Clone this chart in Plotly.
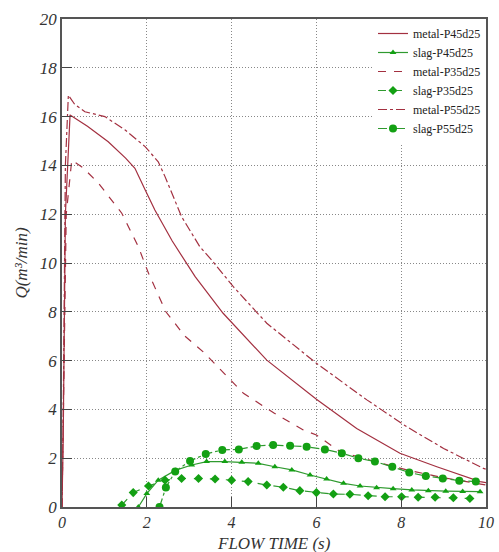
import plotly.graph_objects as go

# metal curves
metal_p45_x = [0, 0.03, 0.08, 0.19, 0.6, 1.09, 1.5, 1.72, 1.96, 2.19, 2.6, 3.14, 3.8, 4.83, 6.0, 6.95, 7.97, 8.84, 9.86, 10]
metal_p45_y = [0, 3, 12, 16.07, 15.6, 14.97, 14.3, 13.88, 13.0, 12.17, 10.9, 9.44, 7.94, 6.02, 4.42, 3.22, 2.2, 1.65, 1.04, 1.0]

metal_p35_x = [0, 0.03, 0.1, 0.23, 0.5, 0.86, 1.41, 1.8, 2.04, 2.45, 2.9, 3.33, 4.28, 5.0, 5.69, 6.0, 6.56, 7.3, 8.13, 9.0, 10]
metal_p35_y = [0, 4, 12, 14.22, 13.9, 13.27, 12.04, 10.67, 9.58, 8.0, 7.0, 6.36, 4.66, 3.85, 3.16, 2.95, 2.27, 1.9, 1.52, 1.2, 0.9]

metal_p55_x = [0, 0.03, 0.08, 0.15, 0.3, 0.54, 1.01, 1.49, 1.96, 2.27, 2.43, 2.82, 3.25, 3.53, 4.04, 4.83, 6.0, 7.19, 8.13, 9.0, 9.94, 10]
metal_p55_y = [0, 4, 14, 16.88, 16.5, 16.2, 16.0, 15.45, 14.77, 14.15, 13.54, 11.9, 10.67, 10.12, 9.03, 7.53, 5.89, 4.39, 3.29, 2.4, 1.58, 1.55]

# slag curves
slag_p45_x = [1.8, 2.0, 2.27, 2.67, 3.06, 3.41, 3.84, 4.24, 4.63, 5.02, 5.42, 5.85, 6.24, 6.64, 7.03, 7.42, 7.81, 8.25, 8.64, 9.05, 9.45, 9.86]
slag_p45_y = [0, 0.55, 1.1, 1.5, 1.72, 1.86, 1.86, 1.83, 1.79, 1.65, 1.52, 1.31, 1.15, 0.97, 0.86, 0.79, 0.75, 0.70, 0.67, 0.65, 0.64, 0.63]

slag_p35_x = [1.41, 1.68, 2.04, 2.43, 2.82, 3.22, 3.61, 4.0, 4.39, 4.83, 5.22, 5.61, 6.0, 6.4, 6.79, 7.22, 7.62, 8.01, 8.4, 8.8, 9.23, 9.62]
slag_p35_y = [0.08, 0.59, 0.86, 1.1, 1.17, 1.17, 1.15, 1.1, 1.04, 0.9, 0.81, 0.67, 0.59, 0.53, 0.52, 0.46, 0.42, 0.42, 0.40, 0.40, 0.38, 0.35]

slag_p55_x = [2.3, 2.45, 2.67, 3.02, 3.39, 3.78, 4.17, 4.59, 4.98, 5.38, 5.77, 6.2, 6.6, 6.99, 7.38, 7.79, 8.19, 8.58, 8.98, 9.37, 9.76]
slag_p55_y = [0.0, 0.8, 1.45, 1.89, 2.17, 2.34, 2.36, 2.5, 2.54, 2.51, 2.47, 2.36, 2.2, 2.0, 1.86, 1.65, 1.41, 1.27, 1.17, 1.08, 1.04]

names = ["metal-P45d25", "slag-P45d25", "metal-P35d25", "slag-P35d25", "metal-P55d25", "slag-P55d25"]

RED = "#a33040"
GREEN = "#2f9a2f"
MGREEN = "#13a013"

fig = go.Figure()
fig.add_trace(go.Scatter(x=metal_p45_x, y=metal_p45_y, mode="lines", name=names[0],
                         line=dict(color=RED, width=1.2, dash="solid")))
fig.add_trace(go.Scatter(x=slag_p45_x, y=slag_p45_y, mode="lines+markers", name=names[1],
                         line=dict(color=GREEN, width=1.2, dash="solid"),
                         marker=dict(symbol="triangle-up", size=6, color=MGREEN)))
fig.add_trace(go.Scatter(x=metal_p35_x, y=metal_p35_y, mode="lines", name=names[2],
                         line=dict(color=RED, width=1.2, dash="8px,8px")))
fig.add_trace(go.Scatter(x=slag_p35_x, y=slag_p35_y, mode="lines+markers", name=names[3],
                         line=dict(color=GREEN, width=1.2, dash="8px,8px"),
                         marker=dict(symbol="diamond", size=7, color=MGREEN)))
fig.add_trace(go.Scatter(x=metal_p55_x, y=metal_p55_y, mode="lines", name=names[4],
                         line=dict(color=RED, width=1.2, dash="dashdot")))
fig.add_trace(go.Scatter(x=slag_p55_x, y=slag_p55_y, mode="lines+markers", name=names[5],
                         line=dict(color=GREEN, width=1.2, dash="dashdot"),
                         marker=dict(symbol="circle", size=8, color=MGREEN)))

fig.update_layout(
    width=499, height=552,
    margin=dict(l=62, r=13, t=19, b=45),
    plot_bgcolor="white", paper_bgcolor="white",
    showlegend=True,
    legend=dict(x=1, xanchor="right", y=1, yanchor="top", bgcolor="white",
                font=dict(family="Liberation Serif", size=12, color="#222"),
                tracegroupgap=0, borderwidth=0),
    font=dict(family="Liberation Serif"),
    annotations=[dict(text="<i>FLOW TIME (s)</i>", xref="paper", yref="paper", x=0.5, y=-0.074,
                      xanchor="center", yanchor="middle", showarrow=False,
                      font=dict(family="Liberation Serif", size=17, color="#333"))],
)
fig.update_xaxes(range=[0, 10], tickvals=[0, 2, 4, 6, 8, 10], ticks="inside", ticklen=10,
                 tickcolor="#444", showline=True, linecolor="#555", linewidth=1.5, mirror=True,
                 showgrid=True, gridcolor="#888", griddash="1px,2px", gridwidth=1, zeroline=False,
                 automargin=False,
                 tickfont=dict(family="Liberation Serif", size=16, color="#333", style="italic"))
fig.update_yaxes(range=[0, 20], tickvals=list(range(0, 21, 2)), ticks="inside", ticklen=10,
                 tickcolor="#444", showline=True, linecolor="#555", linewidth=1.5, mirror=True,
                 showgrid=True, gridcolor="#888", griddash="1px,2px", gridwidth=1, zeroline=False,
                 automargin=False,
                 tickfont=dict(family="Liberation Serif", size=17, color="#333", style="italic"),
                 title=dict(text="<i>Q(m³/min)</i>", font=dict(family="Liberation Serif", size=17, color="#333"), standoff=8))

fig.write_html("out.html")
